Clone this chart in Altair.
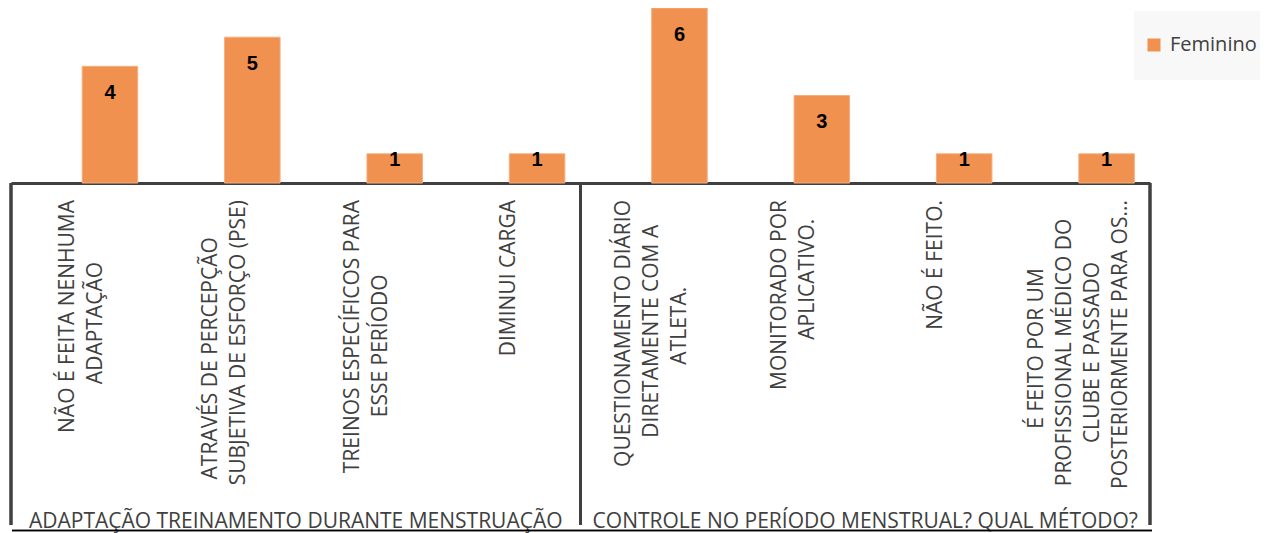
import altair as alt
import pandas as pd

# ---- data ----
groups = [
    "ADAPTAÇÃO TREINAMENTO DURANTE MENSTRUAÇÃO",
    "CONTROLE NO PERÍODO MENSTRUAL? QUAL MÉTODO?",
]
category_lines = [
    ["NÃO É FEITA NENHUMA", "ADAPTAÇÃO"],
    ["ATRAVÉS DE PERCEPÇÃO", "SUBJETIVA DE ESFORÇO (PSE)"],
    ["TREINOS ESPECÍFICOS PARA", "ESSE PERÍODO"],
    ["DIMINUI CARGA"],
    ["QUESTIONAMENTO DIÁRIO", "DIRETAMENTE COM A", "ATLETA."],
    ["MONITORADO POR", "APLICATIVO."],
    ["NÃO É FEITO."],
    ["É FEITO POR UM", "PROFISSIONAL MÉDICO DO", "CLUBE E PASSADO", "POSTERIORMENTE PARA OS..."],
]
feminino = [4, 5, 1, 1, 6, 3, 1, 1]
series_slots = ["Masculino", "Feminino"]   # cluster slots; only Feminino has values
legend_series = ["Feminino"]

# ---- styles / layout ----
ORANGE = "#F0914F"
GRAY = "#404040"
FONT = "Open Sans"
FS = 21
W = 1139
H = 175
LAB_TOP = 192
CHAR_W = 12.4
LINE_H = 28
PAD_IN, PAD_OUT = 0.22, 0.11

step = W / (len(category_lines) - PAD_IN + 2 * PAD_OUT)
bandwidth = step * (1 - PAD_IN)

cats = [" ".join(l) for l in category_lines]
bars_df = pd.DataFrame({"cat": cats, "serie": "Feminino", "v": feminino})

rows = []
for c, lines in zip(cats, category_lines):
    for j, line in enumerate(lines):
        rows.append({"cat": c, "line": line, "j": j, "n": len(lines)})
lab_df = pd.DataFrame(rows)
grp_df = pd.DataFrame({"g": groups})

x_enc = alt.X(
    "cat:N", sort=cats,
    scale=alt.Scale(paddingInner=PAD_IN, paddingOuter=PAD_OUT),
    axis=alt.Axis(title=None, labels=False, ticks=False, domain=True,
                  domainColor=GRAY, domainWidth=3, grid=False),
)
xoff = alt.XOffset("serie:N", scale=alt.Scale(domain=series_slots))
y_scale = alt.Scale(domain=[0, 6], nice=False, zero=True)

bars = alt.Chart(bars_df).mark_bar(stroke="#F5AE7E", strokeWidth=1).encode(
    x=x_enc,
    xOffset=xoff,
    y=alt.Y("v:Q", scale=y_scale, axis=None),
    color=alt.Color(
        "serie:N",
        scale=alt.Scale(domain=legend_series, range=[ORANGE]),
        legend=alt.Legend(
            title=None, orient="none", legendX=1133, legendY=27, padding=0,
            symbolType="square", symbolSize=169, symbolStrokeWidth=0,
            labelFont=FONT, labelFontSize=20, labelColor=GRAY, labelOffset=6,
        ),
    ),
)

bar_labels = alt.Chart(bars_df).transform_calculate(
    ly="max(datum.v - 0.92, 0.8)"
).mark_text(
    font="Liberation Sans", fontWeight="bold", fontSize=20, color="black", baseline="middle"
).encode(
    x=x_enc,
    xOffset=xoff,
    y=alt.Y("ly:Q", scale=y_scale, axis=None),
    text="v:Q",
)

cat_text = alt.Chart(lab_df).transform_calculate(
    ln="length(datum.line)", xo=f"(datum.j - (datum.n - 1) / 2) * {LINE_H}"
).transform_joinaggregate(
    maxlen="max(ln)", groupby=["cat"]
).transform_calculate(
    ty=f"{LAB_TOP} + (datum.maxlen - datum.ln) * {CHAR_W / 2}"
).mark_text(
    angle=270, align="right", baseline="middle",
    font=FONT, fontSize=FS, color=GRAY,
).encode(
    x=x_enc,
    xOffset=alt.XOffset("xo:Q", scale=alt.Scale(domain=[-bandwidth / 2, bandwidth / 2],
                                                nice=False, zero=False)),
    y=alt.Y("ty:Q", scale=None),
    text="line:N",
)

grp_text = alt.Chart(grp_df).transform_window(
    i="row_number()"
).transform_calculate(
    gx=f"(datum.i - 0.5) * {W / 2}"
).mark_text(
    font=FONT, fontSize=FS, color=GRAY, baseline="alphabetic", align="center"
).encode(
    x=alt.X("gx:Q", scale=None),
    y=alt.value(520),
    text="g:N",
)

rule_base = alt.Chart(grp_df).mark_rule(color=GRAY, strokeWidth=3)
div0 = rule_base.encode(x=alt.value(0), y=alt.value(H), y2=alt.value(517))
div1 = rule_base.encode(x=alt.value(W / 2), y=alt.value(H), y2=alt.value(517))
div2 = rule_base.encode(x=alt.value(W), y=alt.value(H), y2=alt.value(517))

bottom = alt.Chart(grp_df).mark_rule(color="black", strokeWidth=1.5).encode(
    x=alt.value(1), x2=alt.value(W + 2), y=alt.value(522.5)
)

legend_bg = alt.Chart(grp_df).mark_rect(color="#F8F8F8").encode(
    x=alt.value(1123), x2=alt.value(1252), y=alt.value(3), y2=alt.value(72)
)

chart = alt.layer(
    legend_bg, bars, bar_labels, cat_text, grp_text, div0, div1, div2, bottom
).resolve_scale(
    xOffset="independent"
).properties(
    width=W, height=H,
    padding={"left": 3, "top": 0, "right": 110, "bottom": 350},
    autosize=alt.AutoSizeParams(type="none"),
).configure_view(stroke=None).configure_axis(grid=False)

chart.save("out.html", embed_options={"renderer": "svg", "actions": False})
